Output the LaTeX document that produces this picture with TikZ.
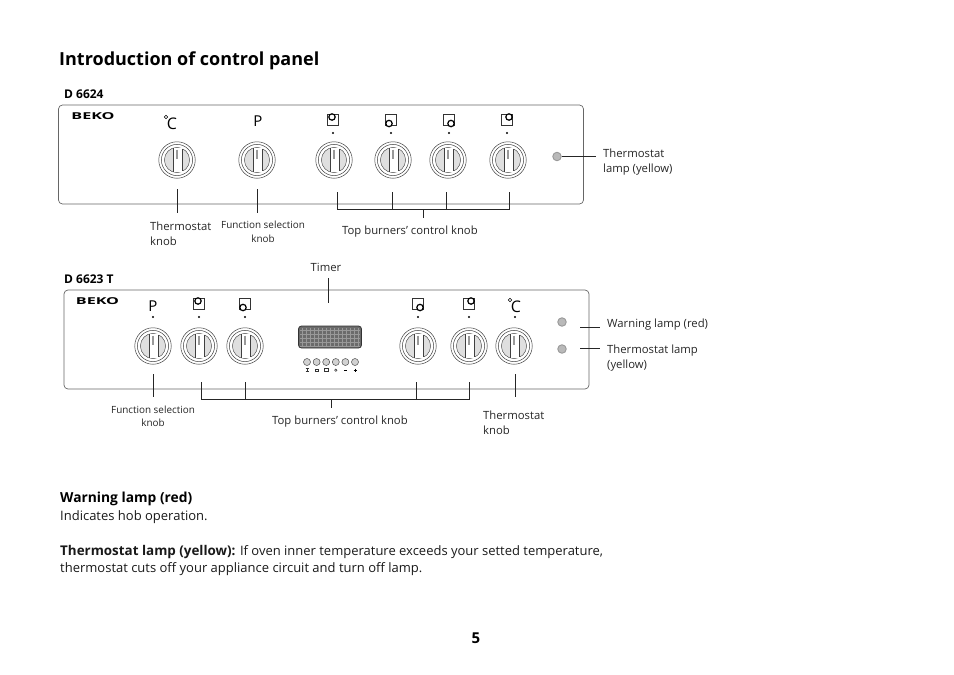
\documentclass[tikz,border=0pt]{standalone}
\usepackage{fontspec}
\setmainfont{Open Sans}
\usetikzlibrary{positioning}

\begin{document}
\begin{tikzpicture}[
  x=1pt, y=-1pt,
  label/.style={inner sep=0pt, anchor=west, yshift=-1.5pt, text=black!85, font=\fontsize{11.3}{14.7}\selectfont},
  smalllabel/.style={inner sep=0pt, align=center, text=black!85, font=\fontsize{9.9}{13.5}\selectfont},
  head/.style={inner sep=0pt, anchor=west, yshift=-1pt, font=\fontsize{12}{14}\selectfont\bfseries},
  bodytext/.style={inner sep=0pt, anchor=west, yshift=-1.5pt, text=black!90, font=\fontsize{13}{15}\selectfont},
  sign/.style={inner sep=0pt, font=\fontsize{15}{16}\selectfont},
  logo/.style={inner sep=0pt, font=\fontsize{9.5}{9}\selectfont\bfseries, xscale=1.7, transform shape},
  panel/.style={rectangle, rounded corners=4pt, draw=black!60, line width=0.7pt},
  lead/.style={draw=black!85, line width=0.8pt},
  lamp/.style={circle, draw=gray!80, fill=gray!55, line width=0.9pt, minimum size=8.5pt, inner sep=0pt},
  dot/.style={circle, fill=black, minimum size=2.4pt, inner sep=0pt},
  knob/.pic={
    \node[circle, draw=black!75, line width=0.5pt, minimum size=36.5pt, inner sep=0pt] (-rim) at (0,0) {};
    \draw[black!75, line width=0.5pt] (0,0) circle (15.6);
    \draw[black!75, line width=0.45pt, fill=gray!25] (0,0) circle (12.6);
    \fill[white] (-4,-11.8) rectangle (5.5,11.8);
    \draw[black!75, line width=0.45pt] (-4,-11.9) -- (-4,11.9) (5.5,-11.4) -- (5.5,11.4);
    \draw[gray!80, line width=1.2pt] (0,-10.5) -- (0,-1);
  },
  hob/.pic={
    \draw[black!80, line width=0.7pt] (-5.5,-5.5) rectangle (5.5,5.5);
    \draw[black, line width=1.2pt, fill=white] #1 circle (3.2);
  },
  button/.pic={
    \node[circle, draw=black!70, fill=gray!35, line width=0.5pt, minimum size=7pt, inner sep=0pt] (-cap) at (0,0) {};
  }
]
\useasboundingbox (0,0) rectangle (954,675);

% ── headings ─────────────────────────────────────────────────────────────────
\node[inner sep=0pt, anchor=west, yshift=-2.5pt, font=\fontsize{18}{22}\selectfont\bfseries] (title) at (59,58) {Introduction of control panel};
\node[head] (modela) at (64,93) {D 6624};
\node[head] (modelb) at (64,278) {D 6623 T};

% ── panel D 6624 ─────────────────────────────────────────────────────────────
\node[panel, minimum width=525pt, minimum height=99pt] (panela) at (321,154.5) {};
\node[logo] (logoa) at (93,116) {BEKO};
\node[sign, font=\fontsize{16}{18}\selectfont] (tempa) at (172,124) {C};
\node[circle, draw=black, line width=0.6pt, minimum size=3.5pt, inner sep=0pt] (dega) at (166,117) {};
\node[sign] (funca) at (258,121) {P};
\pic at (333,120) {hob={(-1,-3)}};
\pic at (391,120) {hob={(-2,3.5)}};
\pic at (449,120) {hob={(2,3.5)}};
\pic at (507,120) {hob={(2,-3)}};
\node[dot] (dota) at (333,133) {};
\node[dot] (dotb) at (391,133) {};
\node[dot] (dotc) at (449,133) {};
\node[dot] (dotd) at (507,133) {};
\pic (ka) at (177,160) {knob};
\pic (kb) at (257,160) {knob};
\pic (kc) at (334,160) {knob};
\pic (kd) at (393,160) {knob};
\pic (ke) at (448,160) {knob};
\pic (kf) at (508,160) {knob};
\node[lamp] (lampa) at (557,156.5) {};

\node[label, align=left] (labthermoa) at (150,232.5) {Thermostat\\knob};
\node[smalllabel] (labfunca) at (263,232) {Function selection\\knob};
\node[label] (labtopa) at (342,230) {Top burners' control knob};
\node[label, align=left] (lablampa) at (603,160.5) {Thermostat\\lamp (yellow)};

\coordinate (ta) at (177,189); \coordinate (tb) at (177,213);
\coordinate (fa) at (257,189); \coordinate (fb) at (257,213);
\coordinate (ba) at (337,192); \coordinate (bb) at (392,192);
\coordinate (bc) at (446,192); \coordinate (bd) at (509,192);
\coordinate (be) at (423,209); \coordinate (bf) at (423,218);
\coordinate (la) at (596,156.5);
\draw[lead] (ta) -- (tb);
\draw[lead] (fa) -- (fb);
\draw[lead] (ba) |- (be);
\draw[lead] (bd) |- (be);
\draw[lead] (bb) -- (bb |- be);
\draw[lead] (bc) -- (bc |- be);
\draw[lead] (be) -- (bf);
\draw[lead] (lampa) -- (la);

% ── panel D 6623 T ───────────────────────────────────────────────────────────
\node[panel, minimum width=525pt, minimum height=99pt] (panelb) at (326.5,339.5) {};
\node[logo] (logob) at (97.5,301) {BEKO};
\node[sign] (funcb) at (153,306) {P};
\node[sign, font=\fontsize{16}{18}\selectfont] (tempb) at (516,307) {C};
\node[circle, draw=black, line width=0.6pt, minimum size=3.5pt, inner sep=0pt] (degb) at (510,300) {};
\pic at (199,304) {hob={(-1,-3)}};
\pic at (245,304) {hob={(-2,3.5)}};
\pic at (418,304) {hob={(2,3.5)}};
\pic at (469,304) {hob={(2,-3)}};
\node[dot] (dote) at (153,317) {};
\node[dot] (dotf) at (199,317) {};
\node[dot] (dotg) at (245,317) {};
\node[dot] (doth) at (418,317) {};
\node[dot] (doti) at (469,317) {};
\node[dot] (dotj) at (515,317) {};
\pic (kg) at (153,346) {knob};
\pic (kh) at (199,346) {knob};
\pic (ki) at (245,346) {knob};
\pic (kj) at (418,346) {knob};
\pic (kk) at (469,346) {knob};
\pic (kl) at (514,346) {knob};
\node[lamp] (lampb) at (562,322) {};
\node[lamp] (lampc) at (562,349) {};

% timer display and its buttons
\node[rectangle, rounded corners=3pt, draw=black!80, fill=black!58, line width=0.8pt,
      minimum width=63pt, minimum height=22pt] (display) at (330,337) {};
\foreach \xpos in {302,306,...,358}
  \draw[black!40, line width=0.3pt] (\xpos,328) -- (\xpos,346);
\foreach \ypos in {330,334,...,346}
  \draw[black!40, line width=0.3pt] (300,\ypos) -- (360,\ypos);
\foreach \n/\xpos in {a/307,b/316.6,c/326.2,d/335.8,e/345.4,f/355}
  \pic (btn\n) at (\xpos,362) {button};
\draw[black!80, line width=0.5pt] (305.5,368) -- (308.5,368) (307,368) -- (307,371) (305.5,371.5) -- (308.5,371.5);
\draw[black!80, line width=0.5pt] (315,369) rectangle (318.2,371.5);
\draw[black!80, line width=0.5pt] (324.6,368.5) rectangle (327.8,371.5);
\draw[black!80, line width=0.5pt] (335.8,370.2) circle (1.2);
\draw[black, line width=0.7pt] (343.9,370) -- (346.9,370);
\draw[black, line width=0.7pt] (353.5,370) -- (356.5,370) (355,368.5) -- (355,371.5);

\node[label, anchor=center] (labtimer) at (326,266) {Timer};
\node[smalllabel] (labfuncb) at (153,416.5) {Function selection\\knob};
\node[label] (labtopb) at (272,420) {Top burners' control knob};
\node[label, align=left] (labthermob) at (483,421) {Thermostat\\knob};
\node[label] (labwarn) at (607,323) {Warning lamp (red)};
\node[label, align=left] (lablampb) at (607,356.5) {Thermostat lamp\\(yellow)};

\coordinate (tc) at (328,278); \coordinate (td) at (328,303);
\coordinate (fc) at (153,374); \coordinate (fd) at (153,397);
\coordinate (bg) at (201,382); \coordinate (bh) at (245,382);
\coordinate (bi) at (416,382); \coordinate (bj) at (469,382);
\coordinate (bk) at (331,399); \coordinate (bl) at (331,408);
\coordinate (te) at (515,374); \coordinate (tf) at (515,397);
\coordinate (wa) at (580,327); \coordinate (wb) at (600,327);
\coordinate (wc) at (580,348); \coordinate (wd) at (600,348);
\draw[lead] (tc) -- (td);
\draw[lead] (fc) -- (fd);
\draw[lead] (bg) |- (bk);
\draw[lead] (bj) |- (bk);
\draw[lead] (bh) -- (bh |- bk);
\draw[lead] (bi) -- (bi |- bk);
\draw[lead] (bk) -- (bl);
\draw[lead] (te) -- (tf);
\draw[lead] (wa) -- (wb);
\draw[lead] (wc) -- (wd);

% ── text below ───────────────────────────────────────────────────────────────
\node[head, font=\fontsize{13.8}{15}\selectfont\bfseries] (warnhead) at (60,498) {Warning lamp (red)};
\node[bodytext] (warntext) at (60,516) {Indicates hob operation.};
\node[bodytext] (thermotext) at (60,551) {{\fontsize{13.4}{15}\selectfont\bfseries Thermostat lamp (yellow):} If oven inner temperature exceeds your setted temperature,};
\node[bodytext] (thermotextb) at (60,568) {thermostat cuts off your appliance circuit and turn off lamp.};
\node[inner sep=0pt, font=\fontsize{15}{17}\selectfont\bfseries] (pagenum) at (476,638) {5};
\end{tikzpicture}
\end{document}
